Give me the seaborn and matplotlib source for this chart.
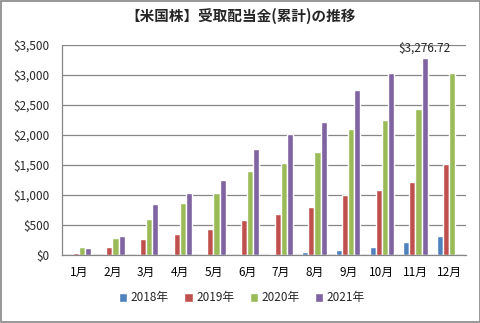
import matplotlib
matplotlib.use("Agg")
import matplotlib.pyplot as plt
import seaborn as sns
import numpy as np
import pandas as pd
from matplotlib.patches import Rectangle
from matplotlib.ticker import FuncFormatter, FixedLocator

months = ["1月", "2月", "3月", "4月", "5月", "6月", "7月", "8月", "9月", "10月", "11月", "12月"]
years = ["2018年", "2019年", "2020年", "2021年"]
v2018 = [0, 0, 0, 0, 0, 0, 17, 50, 83, 133, 217, 317]
v2019 = [38, 138, 267, 350, 433, 583, 683, 800, 1000, 1083, 1217, 1517]
v2020 = [138, 283, 600, 867, 1033, 1400, 1533, 1717, 2100, 2250, 2433, 3033]
v2021 = [122, 317, 850, 1033, 1250, 1767, 2017, 2217, 2750, 3033, 3276.72, np.nan]
colors = ["#4F81BD", "#C0504D", "#9BBB59", "#8064A2"]

rows = []
for y, vals in zip(years, [v2018, v2019, v2020, v2021]):
    for m, v in zip(months, vals):
        rows.append({"月": m, "年": y, "金額": v})
df = pd.DataFrame(rows)

sns.set_style("white")
plt.rcParams['font.family'] = ['Noto Sans CJK JP', 'DejaVu Sans']

fig = plt.figure(figsize=(4.81, 3.23), dpi=100)
ax = fig.add_axes([62/481, 1-255/323, (466-62)/481, (255-45)/323])
sns.barplot(data=df, x="月", y="金額", hue="年", order=months, hue_order=years,
            palette=colors, width=0.72, saturation=1, ax=ax, legend=True, errorbar=None)

ax.set_ylim(0, 3500)
ax.set_xlim(-0.5, 11.5)
ax.yaxis.set_major_locator(FixedLocator(np.arange(0, 3501, 500)))
ax.yaxis.set_major_formatter(FuncFormatter(lambda v, p: f"${v:,.0f}"))
ax.grid(axis="y", color="#868686", linewidth=0.9)
ax.set_axisbelow(True)
ax.set_xlabel("")
ax.set_ylabel("")
for s in ["top", "right"]:
    ax.spines[s].set_visible(False)
for s in ["left", "bottom"]:
    ax.spines[s].set_color("#868686")
    ax.spines[s].set_linewidth(0.9)
ax.set_xticks(np.arange(-0.5, 12, 1), minor=True)
ax.tick_params(axis="x", which="major", length=0, pad=8, labelsize=8.5, colors="black")
ax.tick_params(axis="x", which="minor", length=5, color="#868686", width=0.9)
ax.tick_params(axis="y", which="major", length=5, color="#868686", width=0.9, labelsize=8.5, pad=4)

# annotation
bars = [p for p in ax.patches if p.get_height() > 3000]
top = max(bars, key=lambda p: p.get_height())
ax.annotate("$3,276.72", (top.get_x() + top.get_width()/2, top.get_height()),
            xytext=(0, 3), textcoords="offset points", ha="center", va="bottom", fontsize=8.5)

handles, labels = ax.get_legend_handles_labels()
ax.get_legend().remove()
fig.legend(handles, labels, loc="center", bbox_to_anchor=(242/481, 1-298/323), ncol=4,
           frameon=False, fontsize=8.5, handlelength=0.7, handleheight=0.7,
           handletextpad=0.3, columnspacing=1.3)

fig.text(241/481, 1-16/323, "【米国株】受取配当金(累計)の推移", ha="center", va="center",
         fontsize=10.5, fontweight="bold")

fig.patches.append(Rectangle((0.002, 0.003), 0.996, 0.994, transform=fig.transFigure,
                             fill=False, edgecolor="#868686", linewidth=1.2))
fig.savefig("out.png", dpi=100)
